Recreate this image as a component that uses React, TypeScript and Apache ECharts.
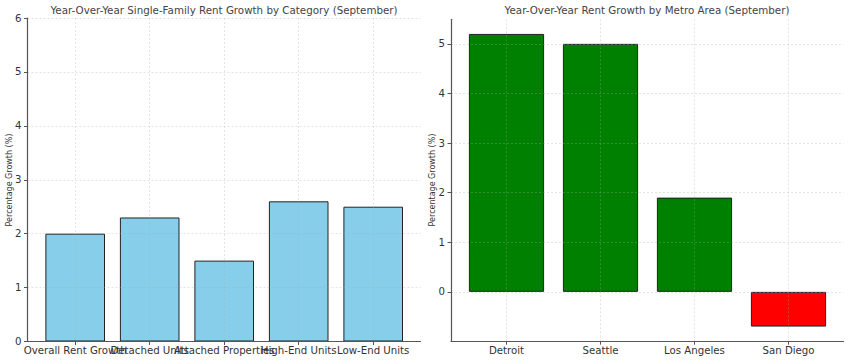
import React, { useEffect, useRef } from 'react';
import * as echarts from 'echarts';

const leftTitle = 'Year-Over-Year Single-Family Rent Growth by Category (September)';
const rightTitle = 'Year-Over-Year Rent Growth by Metro Area (September)';
const yAxisName = 'Percentage Growth (%)';

const leftCategories = ['Overall Rent Growth', 'Detached Units', 'Attached Properties', 'High-End Units', 'Low-End Units'];
const leftValues = [2.0, 2.3, 1.5, 2.6, 2.5];

const metroCategories = ['Detroit', 'Seattle', 'Los Angeles', 'San Diego'];
const metroValues = [5.2, 5.0, 1.9, -0.7];

const FONT = 'DejaVu Sans';
const AXIS_COLOR = '#555';
const TEXT_COLOR = '#333';
const GRID_LINE = { show: true, lineStyle: { color: 'rgba(170,170,170,0.45)', type: [2, 2] as any, width: 0.7 } };

function frameAxis(gridIndex: number) {
  return {
    type: 'value', gridIndex, min: 0, max: 1, z: 3,
    axisLine: { show: true, onZero: false, lineStyle: { color: AXIS_COLOR, width: 1.2 } },
    axisTick: { show: false }, axisLabel: { show: false }, splitLine: { show: false },
  };
}
function hiddenAxis(gridIndex: number, min = 0, max = 1) {
  return { type: 'value', gridIndex, min, max, show: false, axisLine: { onZero: false } };
}
function tickYAxis(gridIndex: number, min: number, max: number, showLine: boolean) {
  return {
    type: 'value', gridIndex, min, max, interval: 1, z: 3,
    axisLine: { show: showLine, onZero: false, lineStyle: { color: AXIS_COLOR, width: 1.2 } },
    axisTick: { show: true, length: 3.5, lineStyle: { color: AXIS_COLOR, width: 1 } },
    axisLabel: { margin: 6, fontSize: 10.2, color: TEXT_COLOR, fontFamily: FONT },
    splitLine: GRID_LINE,
  };
}
function catXAxis(gridIndex: number, data: string[]) {
  return {
    type: 'category', gridIndex, data, boundaryGap: false, z: 3,
    axisLine: { show: false, onZero: false },
    axisTick: { show: true, length: 3.5, lineStyle: { color: AXIS_COLOR, width: 1 } },
    axisLabel: { interval: 0, margin: 4, fontSize: 10.2, color: TEXT_COLOR, fontFamily: FONT },
    splitLine: GRID_LINE,
  };
}

export default function App() {
  const ref = useRef<HTMLDivElement>(null);
  useEffect(() => {
    const chart = echarts.init(ref.current!, null, { renderer: 'svg' });
    const option: any = {
      animation: false,
      backgroundColor: '#fff',
      grid: [
        { left: 27.5, top: 18, width: 393, height: 323.5 },
        { left: 75.2, top: 18, width: 298, height: 323.5 },
        { left: 451, top: 19.3, width: 392.5, height: 321.9 },
        { left: 451, top: 43.9, width: 392.5, height: 248 },
        { left: 506.5, top: 19.3, width: 282, height: 321.9 },
      ],
      xAxis: [
        frameAxis(0),
        catXAxis(1, leftCategories),
        frameAxis(2),
        hiddenAxis(3),
        catXAxis(4, metroCategories),
      ],
      yAxis: [
        tickYAxis(0, 0, 6, true),
        hiddenAxis(1, 0, 6),
        frameAxis(2),
        tickYAxis(3, 0, 5, false),
        hiddenAxis(4, -0.995, 5.495),
      ],
      series: [
        {
          type: 'bar', xAxisIndex: 1, yAxisIndex: 1, data: leftValues, barWidth: 59.6, clip: false, z: 1,
          itemStyle: { color: '#87CEEB', borderColor: '#222', borderWidth: 1 },
        },
        {
          type: 'bar', xAxisIndex: 4, yAxisIndex: 4, barWidth: 75.2, clip: false, z: 1,
          data: metroValues.map((v) => ({ value: v, itemStyle: { color: v >= 0 ? '#008000' : '#FF0000' } })),
          itemStyle: { borderColor: '#222', borderWidth: 1 },
        },
      ],
      graphic: [
        { type: 'text', x: 224, y: 10, style: { text: leftTitle, font: `10.3px "${FONT}"`, fill: '#444', align: 'center', verticalAlign: 'middle' } },
        { type: 'text', x: 647, y: 10, style: { text: rightTitle, font: `10.3px "${FONT}"`, fill: '#444', align: 'center', verticalAlign: 'middle' } },
        { type: 'text', x: 9, y: 180, rotation: Math.PI / 2, style: { text: yAxisName, font: `8px "${FONT}"`, fill: TEXT_COLOR, align: 'center', verticalAlign: 'middle' } },
        { type: 'text', x: 432, y: 180, rotation: Math.PI / 2, style: { text: yAxisName, font: `8px "${FONT}"`, fill: TEXT_COLOR, align: 'center', verticalAlign: 'middle' } },
      ],
    };
    chart.setOption(option);
    return () => chart.dispose();
  }, []);
  return <div ref={ref} style={{ position: 'fixed', left: 0, top: 0, width: 850, height: 361, background: '#fff' }} />;
}
